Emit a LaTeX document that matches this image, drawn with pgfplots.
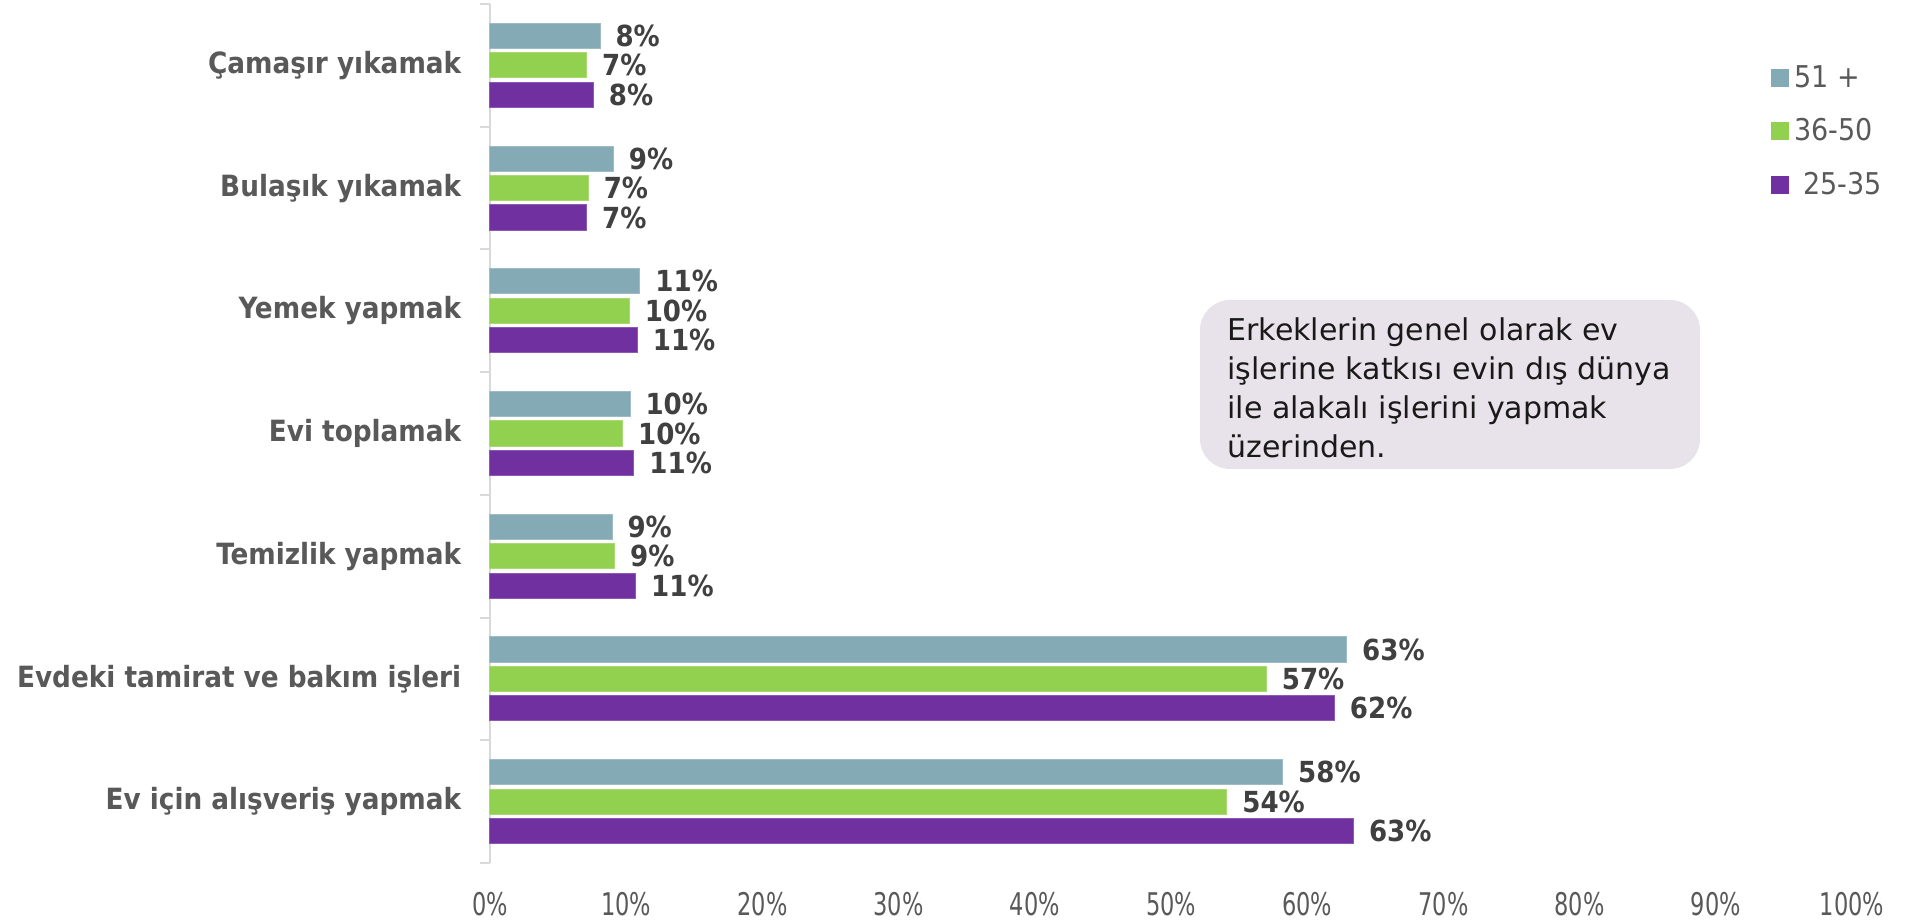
\documentclass[border=0pt]{standalone}
\usepackage{pgfplots}
\pgfplotsset{compat=1.18}
\usepackage{pgfplotstable}
\usepackage{fontspec}
\setmainfont{DejaVu Sans Condensed}
\newfontfamily\tickfont{DejaVu Sans Condensed}[FakeStretch=0.8]
\newfontfamily\boxfont{DejaVu Sans}
\definecolor{cA}{HTML}{84ABB5}
\definecolor{cB}{HTML}{92D050}
\definecolor{cC}{HTML}{7030A0}
\definecolor{catcol}{HTML}{595959}
\definecolor{valcol}{HTML}{404040}
\definecolor{boxfill}{HTML}{E8E3EA}
\definecolor{axcol}{HTML}{D9D9D9}

% 51 +
\pgfplotstableread{
cat val lab
6 8.08 8
5 9.06 9
4 11.01 11
3 10.28 10
2 8.96 9
1 62.9 63
0 58.2 58
}\dA
% 36-50
\pgfplotstableread{
cat val lab
6 7.10 7
5 7.22 7
4 10.23 10
3 9.74 10
2 9.15 9
1 57.0 57
0 54.1 54
}\dB
% 25-35
\pgfplotstableread{
cat val lab
6 7.59 8
5 7.10 7
4 10.82 11
3 10.57 11
2 10.70 11
1 62.0 62
0 63.4 63
}\dC

\begin{document}
\begin{tikzpicture}
\path[use as bounding box] (0,0) rectangle (763.2pt,368.4pt);
\begin{axis}[
  at={(196pt,23.2pt)}, anchor=south west,
  scale only axis, width=544.8pt, height=343.6pt,
  xbar, bar width=0.205,
  xmin=0, xmax=100, ymin=-0.5, ymax=6.5,
  axis lines=left, axis line style={-},
  x axis line style={draw=none},
  y axis line style={draw=axcol, line width=0.8pt},
  xtick={0,10,...,100},
  xticklabels={0\%,10\%,20\%,30\%,40\%,50\%,60\%,70\%,80\%,90\%,100\%},
  xtick style={draw=none},
  xticklabel style={font=\tickfont\fontsize{12.5}{14}\selectfont, text=catcol, inner sep=0pt, yshift=-9.2pt},
  ytick={0,...,6},
  yticklabels={Ev için alışveriş yapmak, Evdeki tamirat ve bakım işleri, Temizlik yapmak, Evi toplamak, Yemek yapmak, Bulaşık yıkamak, Çamaşır yıkamak},
  ytick style={draw=none},
  yticklabel style={font=\bfseries\fontsize{11.7}{14}\selectfont, text=catcol, inner sep=0pt, xshift=-9.2pt},
  extra y ticks={-0.5,0.5,1.5,2.5,3.5,4.5,5.5,6.5},
  extra y tick labels={},
  extra y tick style={ytick style={draw=axcol, line width=0.8pt}, major tick length=4pt, tick align=outside},
  point meta=explicit symbolic,
  nodes near coords={\pgfplotspointmeta\%},
  nodes near coords style={font=\bfseries\fontsize{11.6}{14}\selectfont, text=valcol, anchor=west, inner sep=0pt, xshift=6pt},
  legend style={at={(0.9405,0.935)}, anchor=north west, draw=none, fill=none, inner sep=0pt,
    font=\fontsize{12}{14}\selectfont, text=catcol, row sep=7pt,
    cells={anchor=west}, /tikz/every even column/.style={column sep=4.8pt}},
  clip=false,
]
\addplot[fill=cA, draw=cA!80!white, bar shift=0.24,
  legend image code/.code={\fill[cA] (0pt,-3.4pt) rectangle (6.8pt,3.4pt);}]
  table[x=val, y=cat, meta=lab] {\dA};
\addplot[fill=cB, draw=cB!80!white, bar shift=0,
  legend image code/.code={\fill[cB] (0pt,-3.4pt) rectangle (6.8pt,3.4pt);}]
  table[x=val, y=cat, meta=lab] {\dB};
\addplot[fill=cC, draw=cC!80!white, bar shift=-0.24,
  legend image code/.code={\fill[cC] (0pt,-3.4pt) rectangle (6.8pt,3.4pt);}]
  table[x=val, y=cat, meta=lab] {\dC};
\legend{51 +, 36-50, \ 25-35}
\end{axis}
\fill[boxfill, rounded corners=12pt] (480pt,248.4pt) rectangle (680pt,180.8pt);
\node[anchor=north west, inner sep=0pt, align=left, font=\boxfont\fontsize{12}{15.6}\selectfont, text=black!90]
  at (490.8pt,241.7pt) {Erkeklerin genel olarak ev\\işlerine katkısı evin dış dünya\\ile alakalı işlerini yapmak\\üzerinden.};
\end{tikzpicture}
\end{document}
